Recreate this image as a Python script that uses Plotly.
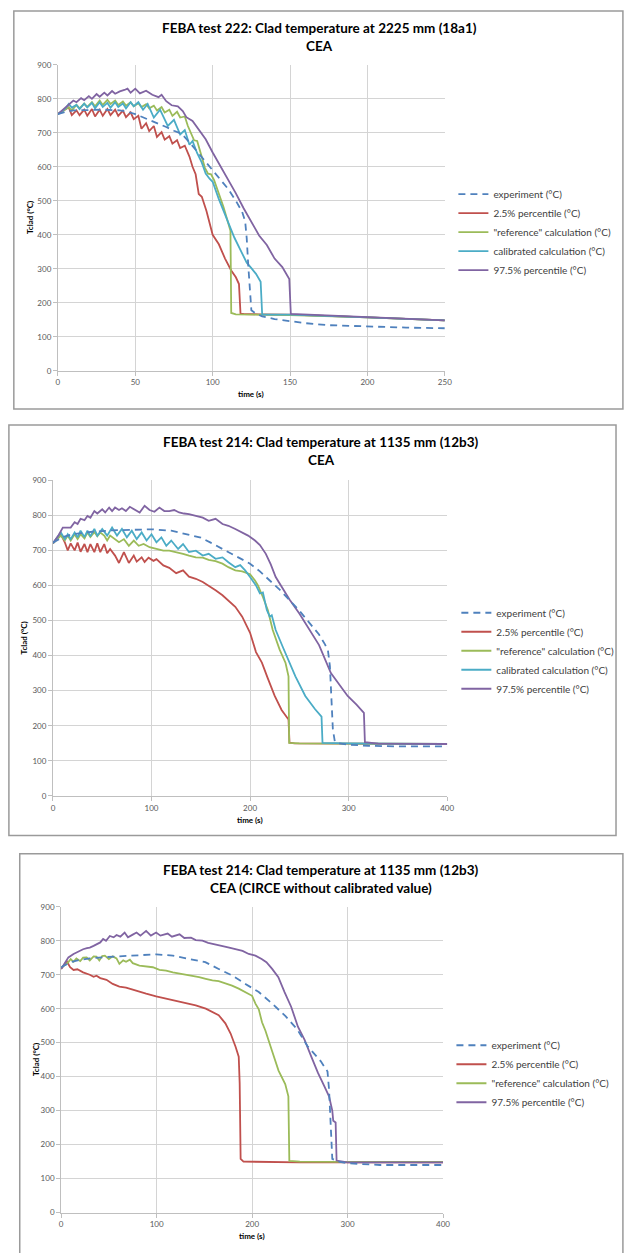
import plotly.graph_objects as go

W, H = 624, 1253

# ---- series names / colours (Excel 2007 palette) ----
series_names = [
    "experiment (°C)",
    "2.5% percentile (°C)",
    '"reference" calculation (°C)',
    "calibrated calculation (°C)",
    "97.5% percentile (°C)",
]
series_colors = ["#4F81BD", "#C0504D", "#9BBB59", "#4BACC6", "#8064A2"]

# ---- panel 1 : FEBA test 222, 2225 mm ----
p1_exp_t = [0, 5, 10, 20, 30, 40, 45, 50, 55, 60, 65, 70, 75, 80, 85, 90, 95, 100, 105, 110, 115, 119, 121,
            122, 123, 124, 125, 128, 132, 140, 150, 160, 175, 200, 225, 250]
p1_exp_T = [755, 762, 766, 768, 768, 766, 762, 755, 746, 737, 727, 717, 706, 697, 672, 645, 618, 592, 565, 535,
            500, 468, 440, 390, 310, 230, 178, 168, 160, 152, 145, 140, 134, 130, 127, 125]

p1_lo_t = [0, 5, 7, 9, 12, 14, 17, 19, 22, 24, 27, 29, 32, 34, 37, 39, 42, 44, 47, 49, 52, 54, 57, 59, 62, 64,
           67, 69, 72, 74, 77, 79, 82, 85, 87, 89, 91, 93, 96, 100, 104, 108, 112, 115, 117, 118, 120, 130, 150,
           200, 250]
p1_lo_T = [755, 768, 775, 752, 766, 752, 768, 750, 770, 748, 768, 750, 770, 752, 768, 750, 765, 746, 760, 740,
           750, 712, 728, 705, 720, 688, 702, 680, 690, 668, 678, 655, 662, 630, 600, 578, 520, 512, 470, 400, 372,
           330, 295, 275, 255, 168, 167, 166, 165, 157, 148]

p1_ref_t = [0, 5, 7, 9, 12, 14, 17, 19, 22, 24, 27, 29, 32, 34, 37, 39, 42, 44, 47, 49, 52, 54, 57, 59, 62, 64,
            67, 69, 72, 74, 77, 79, 82, 84, 86, 88, 90, 92, 95, 97, 99, 101, 104, 107, 111.5, 112, 115, 130, 150,
            200, 250]
p1_ref_T = [755, 768, 775, 766, 782, 772, 786, 776, 790, 778, 795, 782, 797, 785, 795, 782, 792, 780, 790, 778,
            787, 776, 784, 772, 780, 766, 776, 760, 768, 750, 762, 745, 748, 720, 700, 678, 676, 642, 597, 580, 578,
            560, 522, 482, 412, 170, 166, 165, 164, 157, 148]

p1_cal_t = [0, 5, 7, 9, 12, 14, 17, 19, 22, 24, 27, 29, 32, 34, 37, 39, 42, 44, 47, 49, 52, 55, 58, 62, 66, 71,
            75, 79, 82, 85, 87, 90, 93, 95.5, 98, 100, 104, 108, 111, 114, 118, 122, 125, 128, 131, 132, 135, 150,
            200, 250]
p1_cal_T = [755, 772, 785, 774, 782, 770, 786, 775, 788, 772, 790, 776, 788, 774, 790, 776, 786, 772, 790, 778,
            790, 768, 785, 745, 768, 720, 738, 695, 708, 665, 676, 640, 612, 580, 565, 556, 505, 460, 425, 392, 355,
            318, 302, 285, 262, 165, 165, 165, 157, 148]

p1_hi_t = [0, 5, 10, 12, 15, 17, 20, 22, 25, 27, 30, 32, 35, 37, 40, 43, 45, 47, 50, 53, 57, 61, 65, 67, 70,
           73.5, 77.5, 80.7, 83, 87, 91, 95.5, 100, 105, 110, 115, 120, 125, 130, 135, 140, 145, 149.5, 150.5, 175,
           200, 250]
p1_hi_T = [755, 775, 795, 790, 802, 796, 808, 800, 814, 806, 818, 810, 823, 815, 822, 826, 830, 818, 830, 816,
           824, 812, 805, 812, 793, 781, 778, 764, 746, 735, 710, 681, 642, 603, 565, 522, 478, 440, 398, 370, 330,
           305, 270, 167, 162, 157, 148]

# ---- panel 2 : FEBA test 214, 1135 mm ----
p2_exp_t = [0, 5, 10, 20, 30, 40, 60, 80, 100, 120, 130, 140, 150, 160, 170, 180, 190, 200, 210, 220, 230, 240,
            250, 260, 270, 276, 279, 281, 283, 284, 286, 290, 300, 320, 350, 400]
p2_exp_T = [722, 730, 738, 746, 750, 753, 757, 759, 760, 756, 750, 744, 736, 722, 707, 692, 678, 662, 640, 614,
            588, 558, 528, 494, 460, 432, 415, 370, 270, 190, 155, 150, 146, 143, 141, 141]

p2_lo_t = [0, 8, 12, 15, 18, 22, 25, 28, 32, 35, 38, 42, 45, 48, 52, 55, 58, 63, 67, 72, 77, 82, 85, 90, 93, 97,
           102, 105, 112, 118, 125, 132, 138, 145, 152, 158, 165, 172, 178, 185, 192, 200, 206, 212, 218, 225, 232,
           239, 240, 245, 300, 400]
p2_lo_T = [720, 746, 723, 700, 720, 700, 722, 696, 718, 695, 718, 695, 720, 695, 718, 692, 704, 685, 664, 695,
           664, 685, 668, 680, 667, 679, 670, 675, 657, 650, 635, 643, 625, 619, 610, 600, 586, 572, 558, 539, 511,
           465, 410, 380, 335, 285, 245, 218, 152, 150, 149, 148]

p2_ref_t = [0, 8, 12, 15, 18, 22, 25, 28, 32, 35, 38, 42, 45, 48, 52, 55, 58, 63, 67, 72, 77, 82, 87, 92, 98,
            105, 112, 118, 125, 132, 138, 145, 152, 158, 165, 172, 178, 185, 192, 200, 205, 208, 213, 218, 223,
            230, 236, 239, 239.7, 250, 300, 400]
p2_ref_T = [720, 742, 728, 742, 728, 746, 732, 746, 734, 751, 738, 752, 740, 751, 742, 728, 742, 732, 723, 732,
            713, 728, 713, 718, 709, 704, 699, 699, 695, 690, 685, 680, 679, 673, 669, 662, 652, 643, 640, 632, 614,
            600, 567, 530, 473, 417, 379, 341, 151, 150, 149, 148]

p2_cal_t = [0, 8, 12, 15, 18, 22, 25, 28, 32, 35, 38, 42, 45, 50, 55, 60, 65, 70, 75, 80, 85, 90, 95, 100, 105,
            110, 115, 120, 127, 132, 138, 145, 152, 158, 165, 172, 178, 185, 190, 195, 200, 206, 210, 213, 217,
            220, 222, 226, 233, 240, 246, 256, 266, 272.5, 273.5, 300, 400]
p2_cal_T = [720, 751, 732, 746, 732, 751, 737, 756, 738, 756, 740, 761, 742, 761, 742, 765, 742, 761, 737, 756,
            732, 751, 728, 746, 723, 737, 713, 728, 704, 718, 695, 699, 685, 690, 676, 680, 666, 652, 658, 643, 624,
            600, 577, 580, 530, 511, 515, 473, 426, 379, 341, 285, 247, 226, 151, 150, 148]

p2_hi_t = [0, 5, 10, 18, 22, 25, 28, 32, 35, 38, 42, 45, 50, 53, 57, 60, 63, 67, 70, 74, 78, 83, 88, 93, 98,
           103, 108, 113, 118, 123, 128, 133, 138, 145, 152, 158, 165, 172, 178, 185, 192, 198, 205, 210, 216, 221,
           226, 232, 240, 250, 260, 270, 282, 290, 299, 308, 315.5, 316.5, 330, 400]
p2_hi_T = [720, 740, 765, 765, 780, 775, 790, 786, 798, 793, 812, 805, 817, 808, 822, 812, 822, 815, 820, 812,
           824, 815, 808, 827, 815, 810, 822, 812, 812, 815, 808, 805, 803, 798, 793, 784, 790, 775, 770, 761, 751,
           742, 728, 715, 690, 660, 624, 595, 560, 520, 475, 430, 350, 318, 285, 260, 237, 153, 149, 148]

# ---- panel 3 : FEBA test 214, CIRCE without calibrated value ----
p3_exp_t = [0, 5, 10, 20, 30, 47.5, 68, 99.5, 117, 134, 151, 165, 179, 193, 207, 221, 235, 247, 258, 272, 279,
            280.6, 282.3, 284, 290, 300, 334, 400]
p3_exp_T = [722, 730, 737, 744, 748, 752, 756, 760, 756, 746, 737, 717, 698, 673, 649, 615, 578, 540, 490, 445,
            415, 362, 245, 158, 150, 145, 140, 140]

p3_lo_t = [0, 6, 9.4, 13, 17, 23, 30, 34, 37, 41, 47.5, 54, 61, 68, 75, 82, 89, 99.5, 110, 120, 131, 141, 151.5,
           158.5, 165, 172, 177.5, 182.7, 186, 187, 188, 191, 220, 250, 300, 400]
p3_lo_T = [717, 739, 722, 714, 716, 707, 700, 694, 697, 690, 685, 673, 665, 662, 656, 651, 644, 636, 629, 623,
           617, 610, 600, 591, 581, 557, 527, 488, 459, 381, 158, 150, 148, 148, 148, 148]

p3_ref_t = [0, 7.6, 10, 13, 16, 20, 23, 26.7, 30, 34, 37, 40, 43, 45.8, 50, 54, 58, 61, 65, 68, 72, 75, 82, 89,
            96, 103, 110, 117, 124, 131, 137.6, 144.5, 151.5, 158.4, 165, 172, 179, 186, 193, 200, 203.5, 207,
            210.4, 214, 221, 227.7, 234.7, 238, 239, 250, 300, 400]
p3_ref_T = [720, 737, 746, 738, 748, 740, 750, 751, 742, 754, 753, 742, 755, 756, 746, 754, 748, 732, 742, 738,
            744, 734, 727, 725, 722, 714, 712, 707, 704, 700, 696, 693, 688, 683, 681, 675, 668, 659, 648, 638, 615,
            598, 560, 535, 475, 418, 378, 342, 152, 150, 149, 149]

p3_hi_t = [0, 7.6, 13, 18, 23, 27, 30, 34, 37, 41, 44, 47, 51, 55, 58, 62, 66.5, 70, 75, 79, 83, 89, 94, 99.5,
           104, 108, 111.6, 116, 120, 124, 129, 136, 141, 148, 154, 162, 168, 176, 182, 190, 196.5, 203.5, 210,
           215, 221, 227.5, 234, 241, 248, 255, 262, 269, 275.6, 280.6, 284, 285, 287.5, 288.5, 300, 400]
p3_hi_T = [717, 751, 761, 768, 775, 778, 780, 785, 790, 795, 805, 800, 814, 810, 817, 812, 824, 810, 818, 824,
           815, 829, 815, 824, 815, 818, 821, 812, 815, 819, 808, 809, 802, 800, 794, 790, 785, 780, 775, 770, 761,
           756, 746, 737, 717, 693, 649, 605, 547, 508, 459, 411, 372, 342, 300, 270, 265, 153, 148, 148]

panel_titles = [
    ("FEBA test 222: Clad temperature at 2225 mm (18a1)", "CEA"),
    ("FEBA test 214: Clad temperature at 1135 mm (12b3)", "CEA"),
    ("FEBA test 214: Clad temperature at 1135 mm (12b3)", "CEA (CIRCE without calibrated value)"),
]
x_max = [250, 400, 400]
x_step = [50, 100, 100]


def fx(px):
    return px / W


def fy(py):
    return 1 - py / H


# pixel geometry of each panel (plot box, title, legend, frame)
panels = [
    dict(plot=(56.7, 449.3, 60.3, 368.7), title_y=(23, 41), title_x=322, ytitle_x=28.6, xtitle_y=392,
         leg=(458, 176), frame=(12, 630, 6, 407.3)),
    dict(plot=(51.7, 451.7, 479, 797.3), title_y=(441, 459), title_x=324, ytitle_x=22.7, xtitle_y=822,
         leg=(461, 598), frame=(7, 623, 423.3, 837.3)),
    dict(plot=(60, 447.5, 909, 1217.3), title_y=(872, 890), title_x=324, ytitle_x=33.8, xtitle_y=1241,
         leg=(456, 1034), frame=(18, 630, 855.7, 1260)),
]

data = [
    [(p1_exp_t, p1_exp_T), (p1_lo_t, p1_lo_T), (p1_ref_t, p1_ref_T), (p1_cal_t, p1_cal_T), (p1_hi_t, p1_hi_T)],
    [(p2_exp_t, p2_exp_T), (p2_lo_t, p2_lo_T), (p2_ref_t, p2_ref_T), (p2_cal_t, p2_cal_T), (p2_hi_t, p2_hi_T)],
    [(p3_exp_t, p3_exp_T), (p3_lo_t, p3_lo_T), (p3_ref_t, p3_ref_T), None, (p3_hi_t, p3_hi_T)],
]

fig = go.Figure()
shapes = []
annotations = []
layout_axes = {}

for i, panel in enumerate(panels):
    n = "" if i == 0 else str(i + 1)
    leg = "legend" + n
    x0, x1, y0, y1 = panel["plot"]

    # traces, drawn back to front like the Excel chart (experiment on top)
    order = [1, 2, 3, 4, 0]
    for k in order:
        if data[i][k] is None:
            continue
        t, T = data[i][k]
        fig.add_trace(go.Scatter(
            x=t, y=T, mode="lines", name=series_names[k],
            line=dict(color=series_colors[k], width=1.8, dash="7px,5px" if k == 0 else "solid"),
            xaxis="x" + n, yaxis="y" + n, legend=leg, legendrank=k + 1,
        ))

    axis_common = dict(
        showgrid=True, gridcolor="#d4d4d4", gridwidth=1,
        showline=True, linecolor="#bfbfbf", linewidth=1,
        ticks="outside", ticklen=4, tickcolor="#bfbfbf",
        tickfont=dict(family="Lato", size=8, color="#595959"),
        zeroline=False, fixedrange=True,
    )
    layout_axes["xaxis" + n] = dict(
        axis_common, domain=[fx(x0), fx(x1)], range=[0, x_max[i]], dtick=x_step[i], tick0=0,
        anchor="y" + n,
    )
    layout_axes["yaxis" + n] = dict(
        axis_common, domain=[fy(y1), fy(y0)], range=[0, 900], dtick=100, tick0=0,
        anchor="x" + n,
    )

    layout_axes[leg] = dict(
        x=fx(panel["leg"][0]), y=fy(panel["leg"][1]), xanchor="left", yanchor="top",
        bgcolor="rgba(0,0,0,0)", font=dict(family="Lato", size=10, color="#404040"),
        tracegroupgap=0, itemwidth=30, traceorder="normal",
    )

    # frame around each chart
    fx0, fx1, fy0, fy1 = panel["frame"]
    shapes.append(dict(type="rect", xref="paper", yref="paper",
                       x0=fx(fx0), x1=fx(fx1), y0=fy(fy1), y1=fy(fy0),
                       line=dict(color="#9a9a9a", width=1.5), layer="below"))

    # titles
    for line_text, ty in zip(panel_titles[i], panel["title_y"]):
        annotations.append(dict(
            text=line_text, x=fx(panel["title_x"]), y=fy(ty), xref="paper", yref="paper",
            xanchor="center", yanchor="middle", showarrow=False,
            font=dict(family="Lato", size=13.5, color="#000000", weight="bold"),
        ))
    annotations.append(dict(
        text="Tclad (°C)", x=fx(panel["ytitle_x"]), y=fy((y0 + y1) / 2), xref="paper", yref="paper",
        textangle=-90, xanchor="center", yanchor="middle", showarrow=False,
        font=dict(family="Lato", size=8, color="#000000", weight="bold"),
    ))
    annotations.append(dict(
        text="time (s)", x=fx((x0 + x1) / 2), y=fy(panel["xtitle_y"]), xref="paper", yref="paper",
        xanchor="center", yanchor="middle", showarrow=False,
        font=dict(family="Lato", size=8, color="#000000", weight="bold"),
    ))

fig.update_layout(
    width=W, height=H,
    margin=dict(l=0, r=0, t=0, b=0),
    paper_bgcolor="white", plot_bgcolor="white",
    shapes=shapes, annotations=annotations,
    **layout_axes,
)

# page body margin would push the 624x1253 figure off the window
fig.write_html(
    "out.html",
    config={"displayModeBar": False},
    post_script="document.body.style.margin='0';document.body.style.overflow='hidden';",
)
print("[INFO] written out.html")
